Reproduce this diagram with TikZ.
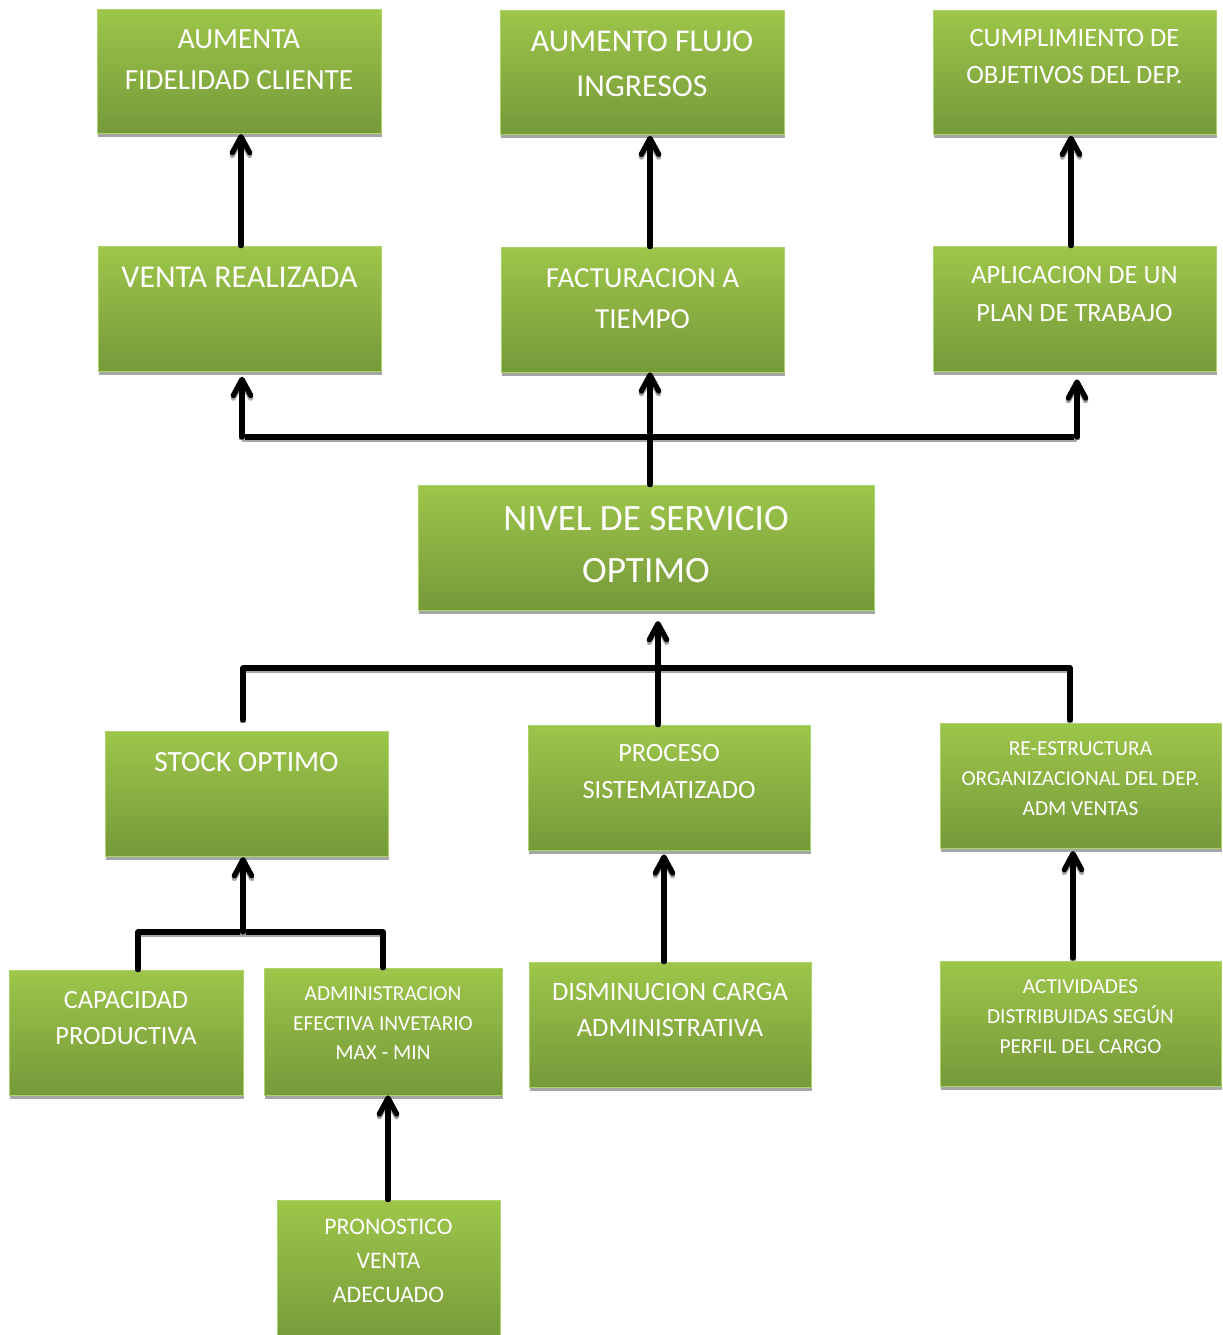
\documentclass[tikz,border=0pt]{standalone}
\usepackage{fontspec}
\setmainfont{Carlito}
\usetikzlibrary{arrows.meta,fit,shadows}
\definecolor{gtop}{RGB}{157,198,74}
\definecolor{gbot}{RGB}{118,153,58}
\definecolor{gedge}{RGB}{172,210,104}
\definecolor{shad}{RGB}{166,166,166}
\newcommand{\fs}[2]{\fontsize{#1pt}{#2pt}\selectfont}
\tikzset{
  gbox/.style={draw=gedge, line width=0.6pt, top color=gtop, bottom color=gbot, inner sep=0pt,
    drop shadow={shadow xshift=0.6pt, shadow yshift=-3pt, fill=shad, opacity=1}},
  txt/.style={text=white, align=center, inner sep=0pt},
  conn/.style={line width=4pt, black, line cap=round,
    preaction={draw=shad, line width=4pt, transform canvas={yshift=-2pt}}},
  arr/.style={conn, -{Straight Barb[length=12pt,width=13pt,round]}},
}
\begin{document}
\begin{tikzpicture}[x=0.75pt,y=-0.75pt]
\useasboundingbox (0,0) rectangle (1222,1335);
% boxes
\node[gbox, fit={(97,9) (381,133)}] (n1) {};
\node[gbox, fit={(500,10) (784,134)}] (n2) {};
\node[gbox, fit={(933,10) (1216,134)}] (n3) {};
\node[gbox, fit={(98,246) (381,371)}] (n4) {};
\node[gbox, fit={(501,247) (784,372)}] (n5) {};
\node[gbox, fit={(933,246) (1216,371)}] (n6) {};
\node[gbox, fit={(418,485) (874,610)}] (n7) {};
\node[gbox, fit={(105,731) (388,856)}] (n8) {};
\node[gbox, fit={(528,725) (810,850)}] (n9) {};
\node[gbox, fit={(940,723) (1221,848)}] (n10) {};
\node[gbox, fit={(9,970) (243,1095)}] (n11) {};
\node[gbox, fit={(264,968) (502,1095)}] (n12) {};
\node[gbox, fit={(529,962) (811,1087)}] (n13) {};
\node[gbox, fit={(940,961) (1221,1086)}] (n14) {};
\node[gbox, fit={(277,1200) (500,1345)}] (n15) {};
% texts
\node[txt, font=\fs{21.9}{30.75}] (t1) at (n1.center |- 0,59.5) {AUMENTA\\FIDELIDAD CLIENTE};
\node[txt, font=\fs{23.8}{33.75}] (t2) at (n2.center |- 0,63.5) {AUMENTO FLUJO\\INGRESOS};
\node[txt, font=\fs{19.9}{27.75}] (t3) at (n3.center |- 0,56.5) {CUMPLIMIENTO DE\\OBJETIVOS DEL DEP.};
\node[txt, font=\fs{23.9}{30}] (t4) at (n4.center |- 0,277) {VENTA REALIZADA};
\node[txt, font=\fs{21.8}{30.75}] (t5) at (n5.center |- 0,298.5) {FACTURACION A\\TIEMPO};
\node[txt, font=\fs{19.8}{28.5}] (t6) at (n6.center |- 0,294) {APLICACION DE UN\\PLAN DE TRABAJO};
\node[txt, font=\fs{27.9}{39}] (t7) at (n7.center |- 0,545) {NIVEL DE SERVICIO\\OPTIMO};
\node[txt, font=\fs{22}{30}] (t8) at (n8.center |- 0,762) {STOCK OPTIMO};
\node[txt, font=\fs{19.8}{27.75}] (t9) at (n9.center |- 0,771.5) {PROCESO\\SISTEMATIZADO};
\node[txt, font=\fs{16}{22.5}] (t10) at (n10.center |- 0,779) {RE-ESTRUCTURA\\ORGANIZACIONAL DEL DEP.\\ADM VENTAS};
\node[txt, font=\fs{19.8}{27}] (t11) at (n11.center |- 0,1018) {CAPACIDAD\\PRODUCTIVA};
\node[txt, font=\fs{16}{22.1}] (t12) at (n12.center |- 0,1023.5) {ADMINISTRACION\\EFECTIVA INVETARIO\\MAX - MIN};
\node[txt, font=\fs{19.9}{27}] (t13) at (n13.center |- 0,1010) {DISMINUCION CARGA\\ADMINISTRATIVA};
\node[txt, font=\fs{16}{22.5}] (t14) at (n14.center |- 0,1017) {ACTIVIDADES\\DISTRIBUIDAS SEGÚN\\PERFIL DEL CARGO};
\node[txt, font=\fs{17.8}{25.5}] (t15) at (n15.center |- 0,1261) {PRONOSTICO\\VENTA\\ADECUADO};
% junction coordinates
\coordinate (a1) at (241,0);
\coordinate (a2) at (650,0);
\coordinate (a3) at (1071,0);
\coordinate (j1) at (242,437);
\coordinate (j2) at (1077,437);
\coordinate (j3) at (650,437);
\coordinate (k1) at (243,668);
\coordinate (k2) at (1070,668);
\coordinate (k3) at (658,668);
\coordinate (m0) at (243,932);
\coordinate (m1) at (138,932);
\coordinate (m2) at (383,932);
\coordinate (p1) at (388,0);
\coordinate (p2) at (664,0);
\coordinate (p3) at (1073,0);
% connectors top
\draw[arr, shorten >=0.5pt] (a1 |- n4.north) -- (a1 |- n1.south);
\draw[arr, shorten >=1pt] (a2 |- n5.north) -- (a2 |- n2.south);
\draw[arr, shorten >=1pt] (a3 |- n6.north) -- (a3 |- n3.south);
\draw[conn] (j1) -- (j2);
\draw[arr, shorten >=4pt] (j1) -- (j1 |- n4.south);
\draw[arr, shorten >=6pt] (j2) -- (j2 |- n6.south);
\draw[arr, shorten >=0pt] (j3 |- n7.north) -- (j3 |- n5.south);
% connectors middle
\draw[conn] (k1) -- (k2);
\draw[conn, shorten >=8pt] (k1) -- (k1 |- n8.north);
\draw[conn, shorten >=2pt] (k2) -- (k2 |- n10.north);
\draw[arr, shorten >=8pt] (k3 |- n9.north) -- (k3 |- n7.south);
% connectors bottom
\draw[conn] (m1) -- (m2);
\draw[arr, shorten >=0.5pt] (m0) -- (m0 |- n8.south);
\draw[conn] (m1) -- (m1 |- n11.north);
\draw[conn] (m2) -- (m2 |- n12.north);
\draw[arr, shorten >=0pt] (p1 |- n15.north) -- (p1 |- n12.south);
\draw[arr, shorten >=3pt] (p2 |- n13.north) -- (p2 |- n9.south);
\draw[arr, shorten >=2pt] ([yshift=2pt]p3 |- n14.north) -- (p3 |- n10.south);
\end{tikzpicture}
\end{document}
